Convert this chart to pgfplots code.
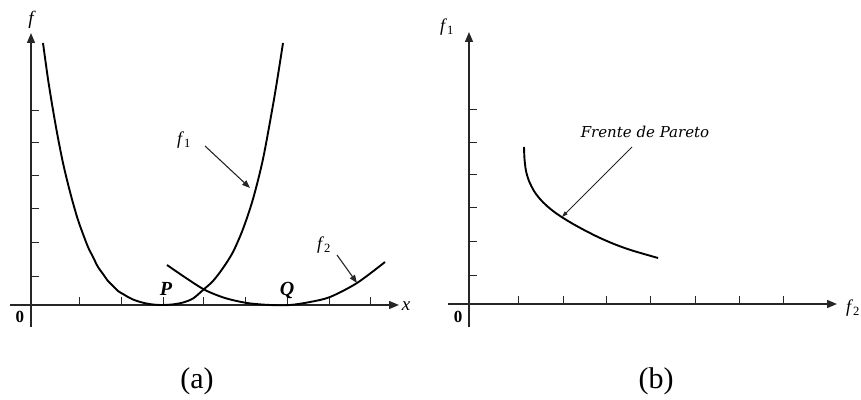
\documentclass[border=0pt]{standalone}
\usepackage{fontspec}
\setmainfont{Liberation Serif}
\newfontfamily\paretofont{DejaVu Serif}
\usepackage{pgfplots}
\pgfplotsset{compat=1.18}
\usetikzlibrary{arrows.meta}

\pgfplotsset{
  sketch/.style={
    x=1pt, y=1pt, clip=false,
    axis lines=middle,
    axis line style={line width=1.4pt, black!85},
    x axis line style={-{Triangle[length=10pt,width=8pt]}},
    y axis line style={-{Triangle[length=10pt,width=8pt]}},
    xticklabels={}, yticklabels={},
    tick style={line width=1pt, black!85},
    major tick length=8pt, tick align=inside,
    anchor=south west,
  },
  curve/.style={black, line width=1.9pt, smooth, tension=0.5, no markers},
}

\begin{document}
\begin{tikzpicture}[x=1pt,y=1pt]
\useasboundingbox (0,0) rectangle (861,399);

% (a) the two objectives along x
\begin{axis}[sketch, at={(10,72)},
    xmin=-21, xmax=368, ymin=-22, ymax=272,
    xtick={48,90,132,172,214,256,298,339},
    ytick={29,62,96,129,162,194}]
  \addplot[curve] coordinates {
    (12,262) (17,226) (22,195) (27,167) (32,142) (37,121) (42,102) (47,85)
    (52,71) (57,58) (62,48) (67,38) (72,31) (77,24) (82,19) (87,14) (92,11)
    (97,8) (102,5.5) (107,3.7) (112,2.3) (117,1.2) (122,0.5) (127,0.1) (132,0)
    (142,0.6) (152,2.5) (162,6.5) (172,15) (182,24) (192,37) (202,53)
    (212,76) (222,106) (232,146) (242,200) (247,230) (252,262)};
  \addplot[curve] coordinates {
    (136,40) (155,27) (174,15) (194,7) (216,2) (239,0) (259,0) (279,3)
    (299,8) (326,22) (354,43)};
  \draw[line width=1.1pt, black!85, -{Triangle[length=8pt,width=6pt]}] (174,159) -- (219,117);
  \draw[line width=1.1pt, black!85, -{Triangle[length=8pt,width=6pt]}] (306,50) -- (326,22);
  \node[font=\fontsize{18}{18}\selectfont] at (153,165) {\textit{f}\textsubscript{1}};
  \node[font=\fontsize{18}{18}\selectfont] at (293,60) {\textit{f}\textsubscript{2}};
  \node[font=\fontsize{20}{20}\selectfont\bfseries\itshape] at (135,16) {P};
  \node[font=\fontsize{20}{20}\selectfont\bfseries\itshape] at (256,14) {Q};
  \node[font=\fontsize{17}{17}\selectfont\bfseries] at (-11,-12) {0};
  \node[font=\fontsize{19}{19}\selectfont\itshape] at (375,-1) {x};
  \node[font=\fontsize{19}{19}\selectfont\itshape] at (0,285) {f};
\end{axis}

% (b) objective space
\begin{axis}[sketch, at={(448,72)},
    xmin=-21, xmax=368, ymin=-23, ymax=272,
    xtick={49,94,137,181,226,270,314},
    ytick={29,62,96,129,161,194}]
  \addplot[curve] coordinates {
    (55,157) (55.5,145) (57,133) (60,123) (65,113) (71,105) (78,98) (86,91.5)
    (95,85.5) (105,79.5) (117,73) (130,66.5) (145,60) (160,54.5) (175,50) (189,46)};
  \draw[line width=0.8pt, black!85, -{Triangle[length=6pt,width=4pt]}] (163,157) -- (93,87);
  \node[font=\paretofont\fontsize{15}{15}\selectfont\itshape] at (176,172) {Frente de Pareto};
  \node[font=\fontsize{17}{17}\selectfont\bfseries] at (-11,-13) {0};
  \node[font=\fontsize{18}{18}\selectfont] at (384,-4) {\textit{f}\textsubscript{2}};
  \node[font=\fontsize{18}{18}\selectfont] at (-22,277) {\textit{f}\textsubscript{1}};
\end{axis}

\node[font=\fontsize{30}{30}\selectfont] at (197,18) {(a)};
\node[font=\fontsize{30}{30}\selectfont] at (656,18) {(b)};
\end{tikzpicture}
\end{document}
